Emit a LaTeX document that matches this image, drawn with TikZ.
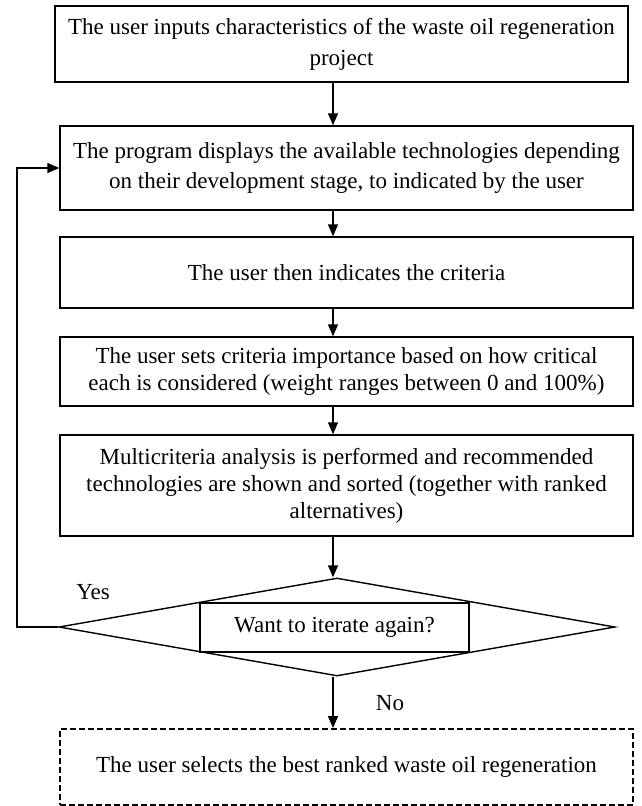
\documentclass[tikz,border=0pt]{standalone}
\usepackage{fontspec}
\setmainfont{Liberation Serif}
\usetikzlibrary{shapes.geometric,arrows.meta}

\begin{document}
\begin{tikzpicture}[x=1pt, y=-1pt, line width=1.4pt,
    every node/.style={font=\fontsize{23}{27}\selectfont},
    stepbox/.style={draw, minimum width=573pt, align=center, inner sep=0pt},
    flow/.style={-{Triangle[length=12pt,width=10pt]}}]
    \useasboundingbox (0,0) rectangle (641,806);
    \coordinate (axis) at (333,0);
    \coordinate (back) at (17,0);
    \node[stepbox, minimum height=76pt] (inputs) at (341.5,44)
        {The user inputs characteristics of the waste oil regeneration\\[4pt]project};
    \node[stepbox, minimum height=84pt] (display) at (346.5,168)
        {The program displays the available technologies depending\\[3pt]on their development stage, to indicated by the user};
    \node[stepbox, minimum height=71pt] (criteria) at (346.5,272.5)
        {The user then indicates the criteria};
    \node[stepbox, minimum height=69pt] (weights) at (346.5,371.5)
        {The user sets criteria importance based on how critical\\each is considered (weight ranges between 0 and 100\%)};
    \node[stepbox, minimum height=101pt] (analysis) at (346.5,485.5)
        {Multicriteria analysis is performed and recommended\\technologies are shown and sorted (together with ranked\\alternatives)};
    \node[draw, diamond, inner sep=0pt, minimum width=556pt, minimum height=98pt] (iterate) at (337,627) {};
    \node[draw, minimum width=269pt, minimum height=49pt, inner sep=0pt] (question) at (334.5,627.5) {Want to iterate again?};
    \node[stepbox, line width=2pt, dash pattern=on 6pt off 3pt, minimum height=76pt] (select) at (346.5,767)
        {The user selects the best ranked waste oil regeneration};
    \node (yes) at (93,592) {Yes};
    \node (no) at (390,703) {No};
    \foreach \a/\b in {inputs/display, display/criteria, criteria/weights, weights/analysis, analysis/iterate, iterate/select}
        \draw[flow] (\a.south -| axis) -- (\b.north -| axis);
    \draw[flow] (iterate.west) -- (iterate.west -| back) -- (display.west -| back) -- (display.west);
\end{tikzpicture}
\end{document}
